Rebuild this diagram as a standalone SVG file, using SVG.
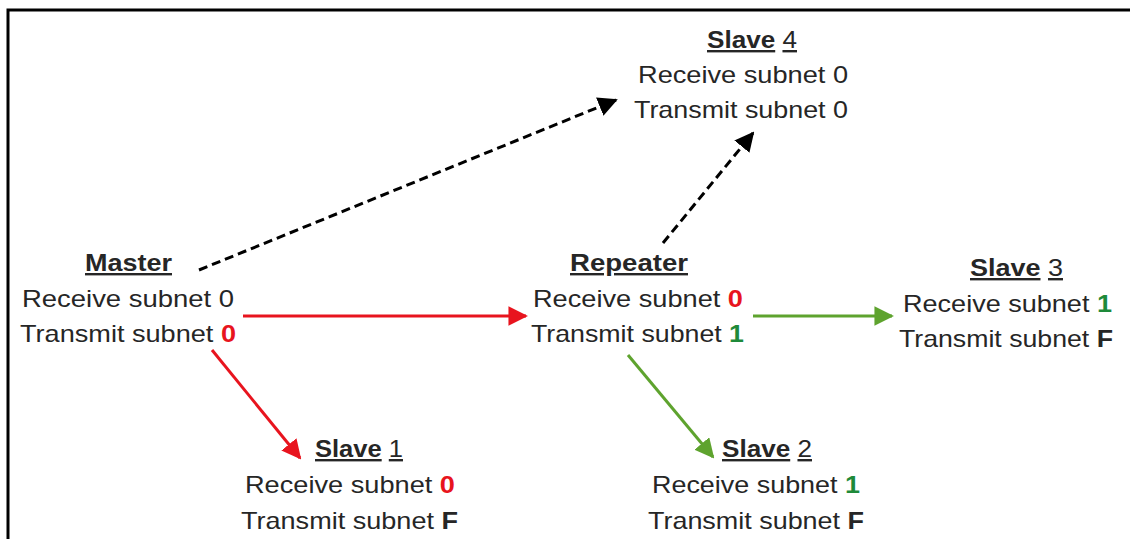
<svg xmlns="http://www.w3.org/2000/svg" width="1130" height="539" viewBox="0 0 1130 539">
<defs>
<style>
text{font-family:"Liberation Sans",Arial,sans-serif;font-size:24px;fill:#262626}
.h{font-weight:bold;text-decoration:underline}
.u{text-decoration:underline}
.r{fill:#e8141e;font-weight:bold}
.g{fill:#1e8a3a;font-weight:bold}
.b{font-weight:bold}
.dash{stroke:#000;stroke-width:3;stroke-dasharray:9 5;fill:none}
.red{stroke:#e8141e;stroke-width:3;fill:none}
.grn{stroke:#5ea32e;stroke-width:3;fill:none}
</style>
<marker id="ab" viewBox="0 0 10 10" refX="9" refY="5" markerWidth="6.5" markerHeight="6.5" orient="auto" markerUnits="strokeWidth"><path d="M0,0 L10,5 L0,10 z" fill="#000"/></marker>
<marker id="ar" viewBox="0 0 10 10" refX="9" refY="5" markerWidth="6.5" markerHeight="6.5" orient="auto" markerUnits="strokeWidth"><path d="M0,0 L10,5 L0,10 z" fill="#e8141e"/></marker>
<marker id="ag" viewBox="0 0 10 10" refX="9" refY="5" markerWidth="6.5" markerHeight="6.5" orient="auto" markerUnits="strokeWidth"><path d="M0,0 L10,5 L0,10 z" fill="#5ea32e"/></marker>
</defs>
<rect width="1130" height="539" fill="#fff"/>
<path d="M8,539 V10 H1130" fill="none" stroke="#000" stroke-width="3"/>
<g id="connectors">
<line class="dash" x1="199" y1="270" x2="616" y2="100" marker-end="url(#ab)"/>
<line class="dash" x1="663" y1="243" x2="753" y2="133" marker-end="url(#ab)"/>
<line class="red" x1="243" y1="316" x2="526" y2="316" marker-end="url(#ar)"/>
<line class="red" x1="212" y1="350" x2="300" y2="458" marker-end="url(#ar)"/>
<line class="grn" x1="753" y1="316" x2="892" y2="316" marker-end="url(#ag)"/>
<line class="grn" x1="628" y1="355" x2="713" y2="457" marker-end="url(#ag)"/>
</g>
<g id="master">
<text x="85" y="271" class="h" textLength="87" lengthAdjust="spacingAndGlyphs">Master</text>
<text x="22" y="307" textLength="212" lengthAdjust="spacingAndGlyphs">Receive subnet 0</text>
<text x="20" y="342" textLength="216" lengthAdjust="spacingAndGlyphs">Transmit subnet <tspan class="r">0</tspan></text>
</g>
<g id="slave4">
<text x="707" y="48" textLength="90" lengthAdjust="spacingAndGlyphs"><tspan class="h">Slave</tspan> <tspan class="u">4</tspan></text>
<text x="638" y="83" textLength="210" lengthAdjust="spacingAndGlyphs">Receive subnet 0</text>
<text x="634" y="118" textLength="214" lengthAdjust="spacingAndGlyphs">Transmit subnet 0</text>
</g>
<g id="repeater">
<text x="570" y="271" class="h" textLength="118" lengthAdjust="spacingAndGlyphs">Repeater</text>
<text x="533" y="307" textLength="210" lengthAdjust="spacingAndGlyphs">Receive subnet <tspan class="r">0</tspan></text>
<text x="531" y="342" textLength="213" lengthAdjust="spacingAndGlyphs">Transmit subnet <tspan class="g">1</tspan></text>
</g>
<g id="slave3">
<text x="970" y="276" textLength="93" lengthAdjust="spacingAndGlyphs"><tspan class="h">Slave</tspan> <tspan class="u">3</tspan></text>
<text x="903" y="312" textLength="209" lengthAdjust="spacingAndGlyphs">Receive subnet <tspan class="g">1</tspan></text>
<text x="899" y="347" textLength="214" lengthAdjust="spacingAndGlyphs">Transmit subnet <tspan class="b">F</tspan></text>
</g>
<g id="slave1">
<text x="315" y="457" textLength="88" lengthAdjust="spacingAndGlyphs"><tspan class="h">Slave</tspan> <tspan class="u">1</tspan></text>
<text x="245" y="493" textLength="210" lengthAdjust="spacingAndGlyphs">Receive subnet <tspan class="r">0</tspan></text>
<text x="241" y="529" textLength="217" lengthAdjust="spacingAndGlyphs">Transmit subnet <tspan class="b">F</tspan></text>
</g>
<g id="slave2">
<text x="722" y="457" textLength="90" lengthAdjust="spacingAndGlyphs"><tspan class="h">Slave</tspan> <tspan class="u">2</tspan></text>
<text x="652" y="493" textLength="208" lengthAdjust="spacingAndGlyphs">Receive subnet <tspan class="g">1</tspan></text>
<text x="648" y="529" textLength="216" lengthAdjust="spacingAndGlyphs">Transmit subnet <tspan class="b">F</tspan></text>
</g>
</svg>
